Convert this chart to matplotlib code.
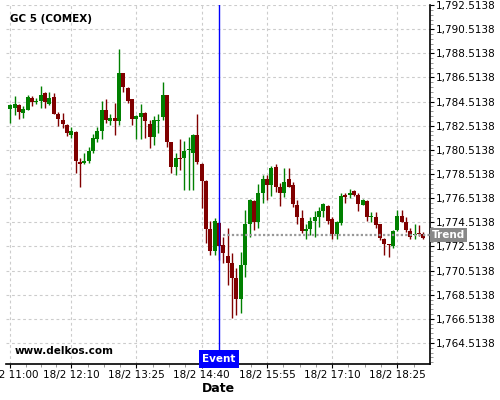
import numpy as np
import pandas as pd
import matplotlib
matplotlib.use("Agg")
import matplotlib.pyplot as plt
from matplotlib.ticker import FixedLocator, FuncFormatter
import matplotlib.transforms as mtransforms

# 5 minute candles, 18/2 from 11:00
opens = [1783.92, 1784.01, 1784.23, 1783.59, 1783.84, 1784.81, 1784.45, 1784.59, 1785.22, 1784.34,
         1784.89, 1783.51, 1783.01, 1782.57, 1781.77, 1781.99, 1779.51, 1779.45, 1779.61, 1780.42,
         1781.44, 1782.10, 1783.81, 1782.93, 1783.15, 1782.93, 1786.85, 1785.64, 1784.70, 1783.09,
         1783.21, 1783.59, 1782.65, 1781.55, 1782.93, 1783.21, 1785.06, 1781.19, 1779.07, 1779.84,
         1779.84, 1780.53, 1780.28, 1781.74, 1779.34, 1777.96, 1773.93, 1772.16, 1774.48, 1772.60,
         1771.72, 1771.11, 1769.87, 1768.13, 1770.97, 1774.37, 1776.28, 1774.56, 1776.91, 1778.07,
         1777.63, 1779.12, 1777.41, 1776.96, 1778.07, 1777.63, 1775.94, 1774.84, 1773.81, 1773.93,
         1774.64, 1774.95, 1775.42, 1775.89, 1774.76, 1773.54, 1774.48, 1776.80, 1776.75, 1777.13,
         1776.80, 1775.97, 1776.30, 1774.97, 1774.95, 1774.35, 1773.13, 1772.65, 1772.57, 1773.90,
         1775.01, 1774.56, 1773.79, 1773.46, 1773.63, 1773.57]
highs = [1784.31, 1784.95, 1784.31, 1784.17, 1785.06, 1784.95, 1784.78, 1785.78, 1785.33, 1785.28,
         1785.22, 1783.62, 1783.57, 1782.63, 1782.43, 1782.05, 1779.81, 1780.23, 1780.73, 1781.83,
         1782.38, 1784.56, 1784.70, 1783.48, 1784.37, 1788.84, 1786.91, 1785.74, 1784.70, 1783.40,
         1784.31, 1783.62, 1782.99, 1783.32, 1783.48, 1786.16, 1785.10, 1781.20, 1780.23, 1781.39,
         1781.27, 1781.60, 1781.80, 1783.48, 1779.40, 1778.00, 1774.64, 1774.84, 1774.55, 1773.27,
         1774.01, 1771.99, 1770.70, 1772.07, 1775.53, 1776.42, 1776.36, 1777.68, 1778.40, 1778.43,
         1779.17, 1779.34, 1777.74, 1778.98, 1778.98, 1777.87, 1776.36, 1775.53, 1774.37, 1774.97,
         1775.42, 1775.75, 1776.08, 1775.95, 1774.97, 1774.60, 1776.91, 1776.91, 1777.24, 1777.15,
         1776.91, 1776.47, 1776.35, 1775.34, 1775.34, 1774.40, 1773.19, 1772.70, 1773.90, 1775.50,
         1775.50, 1774.95, 1774.06, 1774.40, 1774.29, 1773.68]
lows = [1782.76, 1783.40, 1783.04, 1783.13, 1783.81, 1784.17, 1784.29, 1784.01, 1783.96, 1784.25,
        1783.46, 1782.51, 1782.35, 1781.64, 1781.47, 1778.57, 1777.41, 1779.34, 1779.45, 1780.23,
        1781.16, 1781.44, 1782.76, 1782.59, 1781.72, 1782.55, 1785.33, 1784.37, 1782.59, 1781.44,
        1781.44, 1781.49, 1780.64, 1780.91, 1781.88, 1782.99, 1780.77, 1778.62, 1778.43, 1778.84,
        1777.17, 1777.17, 1777.17, 1779.34, 1775.67, 1772.82, 1771.83, 1771.83, 1771.39, 1771.16,
        1769.32, 1766.56, 1766.83, 1766.97, 1770.00, 1773.32, 1773.87, 1774.01, 1776.08, 1776.36,
        1776.69, 1777.05, 1775.86, 1776.63, 1777.41, 1775.80, 1774.37, 1773.60, 1773.15, 1773.46,
        1773.27, 1774.10, 1774.97, 1774.37, 1773.10, 1773.10, 1774.26, 1776.14, 1776.52, 1776.69,
        1775.47, 1775.92, 1774.62, 1774.51, 1774.01, 1773.04, 1771.80, 1771.66, 1772.36, 1773.79,
        1774.51, 1773.68, 1773.13, 1773.13, 1773.40, 1773.13]
closes = [1784.23, 1784.31, 1783.62, 1783.90, 1784.89, 1784.50, 1784.59, 1785.06, 1784.45, 1784.81,
          1783.51, 1783.09, 1782.63, 1781.93, 1782.10, 1779.61, 1779.34, 1779.61, 1780.42, 1781.49,
          1782.10, 1783.81, 1782.99, 1783.15, 1782.88, 1786.91, 1785.74, 1784.59, 1783.09, 1783.32,
          1783.54, 1782.93, 1781.55, 1782.99, 1783.01, 1785.06, 1781.19, 1779.07, 1779.84, 1779.78,
          1780.42, 1780.58, 1781.74, 1779.53, 1777.96, 1773.93, 1772.16, 1774.62, 1772.55, 1771.94,
          1771.11, 1769.87, 1768.13, 1770.97, 1774.37, 1776.36, 1774.56, 1776.91, 1778.07, 1777.63,
          1778.98, 1777.41, 1776.96, 1777.85, 1777.46, 1776.03, 1774.97, 1773.81, 1773.93, 1774.64,
          1774.95, 1775.42, 1776.03, 1774.64, 1773.54, 1774.56, 1776.69, 1776.58, 1776.96, 1776.75,
          1776.03, 1776.36, 1774.97, 1775.00, 1774.29, 1773.24, 1772.74, 1772.60, 1773.79, 1775.01,
          1774.56, 1773.90, 1773.29, 1773.52, 1773.52, 1773.24]

times = pd.date_range("2021-02-18 11:00", periods=len(opens), freq="5min")
tick_times = ["11:00", "12:10", "13:25", "14:40", "15:55", "17:10", "18:25"]
event_time = "15:00"
trend_start = "15:05"
trend_level = 1773.46
ytick_values = np.arange(1764.5138, 1793, 2)

hhmm = list(times.strftime("%H:%M"))
x = np.arange(len(opens))
o = np.array(opens); h = np.array(highs); l = np.array(lows); c = np.array(closes)
up = c >= o
colors = np.where(up, "#008000", "#800000")

fig = plt.figure(figsize=(5, 4), dpi=100)
ax = fig.add_axes([0.012, 0.09, 0.848, 0.8975])

ax.grid(True, which="major", color="#cccccc", linestyle=(0, (2.5, 2.5)), linewidth=0.8)
ax.set_axisbelow(True)

ax.vlines(x, l, h, colors=colors, linewidth=1, zorder=2)
body = np.maximum(np.abs(c - o), 0.08)
ax.bar(x, body, bottom=np.minimum(o, c), width=0.92, color=colors, zorder=3)

ev = hhmm.index(event_time)
ax.axvline(ev, color="blue", linewidth=1, zorder=4)
ts = hhmm.index(trend_start)
ax.plot([ts, len(opens) + 1], [trend_level, trend_level], color="#999999",
        linestyle=(0, (1, 1)), linewidth=1.6, zorder=4)

ax.set_xlim(-1, len(opens) + 0.5)
ax.set_ylim(1762.77, 1792.52)

# x ticks
major_pos = [hhmm.index(t) for t in tick_times]
ax.xaxis.set_major_locator(FixedLocator(major_pos))
ax.set_xticklabels(["18/2 " + t for t in tick_times])
minor_pos = []
for a, b in zip(major_pos[:-1], major_pos[1:]):
    minor_pos += list(np.linspace(a, b, 5)[1:-1])
step = (major_pos[-1] - major_pos[-2]) / 4
minor_pos.append(major_pos[-1] + step)
ax.xaxis.set_minor_locator(FixedLocator(minor_pos))

# y ticks on the right
ax.yaxis.tick_right()
ax.yaxis.set_major_locator(FixedLocator(ytick_values))
ax.yaxis.set_minor_locator(FixedLocator(np.arange(ytick_values[0] - 1.6, 1792.6, 0.4)))
ax.yaxis.set_major_formatter(FuncFormatter(lambda v, p: f"{v:,.4f}"))

ax.tick_params(axis="both", which="major", labelsize=7.5, length=3, width=0.8, pad=1)
ax.tick_params(axis="both", which="minor", length=2, width=0.6, color="#888888")

for s in ["top", "left"]:
    ax.spines[s].set_visible(False)
ax.spines["right"].set_linewidth(1.2)
ax.spines["bottom"].set_linewidth(1.2)

ax.set_xlabel("Date", fontsize=9, fontweight="bold", labelpad=2)

ax.text(0.01, 0.975, "GC 5 (COMEX)", transform=ax.transAxes, fontsize=7.5,
        fontweight="bold", va="top", ha="left")
ax.text(0.02, 0.035, "www.delkos.com", transform=ax.transAxes, fontsize=7.5,
        fontweight="bold", va="center", ha="left")

tr = mtransforms.blended_transform_factory(ax.transData, ax.transAxes)
ax.text(ev, 0.0, "Event", transform=tr, color="white", fontsize=7.5, fontweight="bold",
        ha="center", va="bottom", zorder=6,
        bbox=dict(boxstyle="square,pad=0.35", facecolor="blue", edgecolor="none"))
tr2 = mtransforms.blended_transform_factory(ax.transAxes, ax.transData)
ax.text(1.004, trend_level, "Trend", transform=tr2, color="white", fontsize=7.5,
        fontweight="bold", ha="left", va="center", zorder=6,
        bbox=dict(boxstyle="square,pad=0.18", facecolor="#888888", edgecolor="none"))

fig.savefig("out.png", dpi=100)
